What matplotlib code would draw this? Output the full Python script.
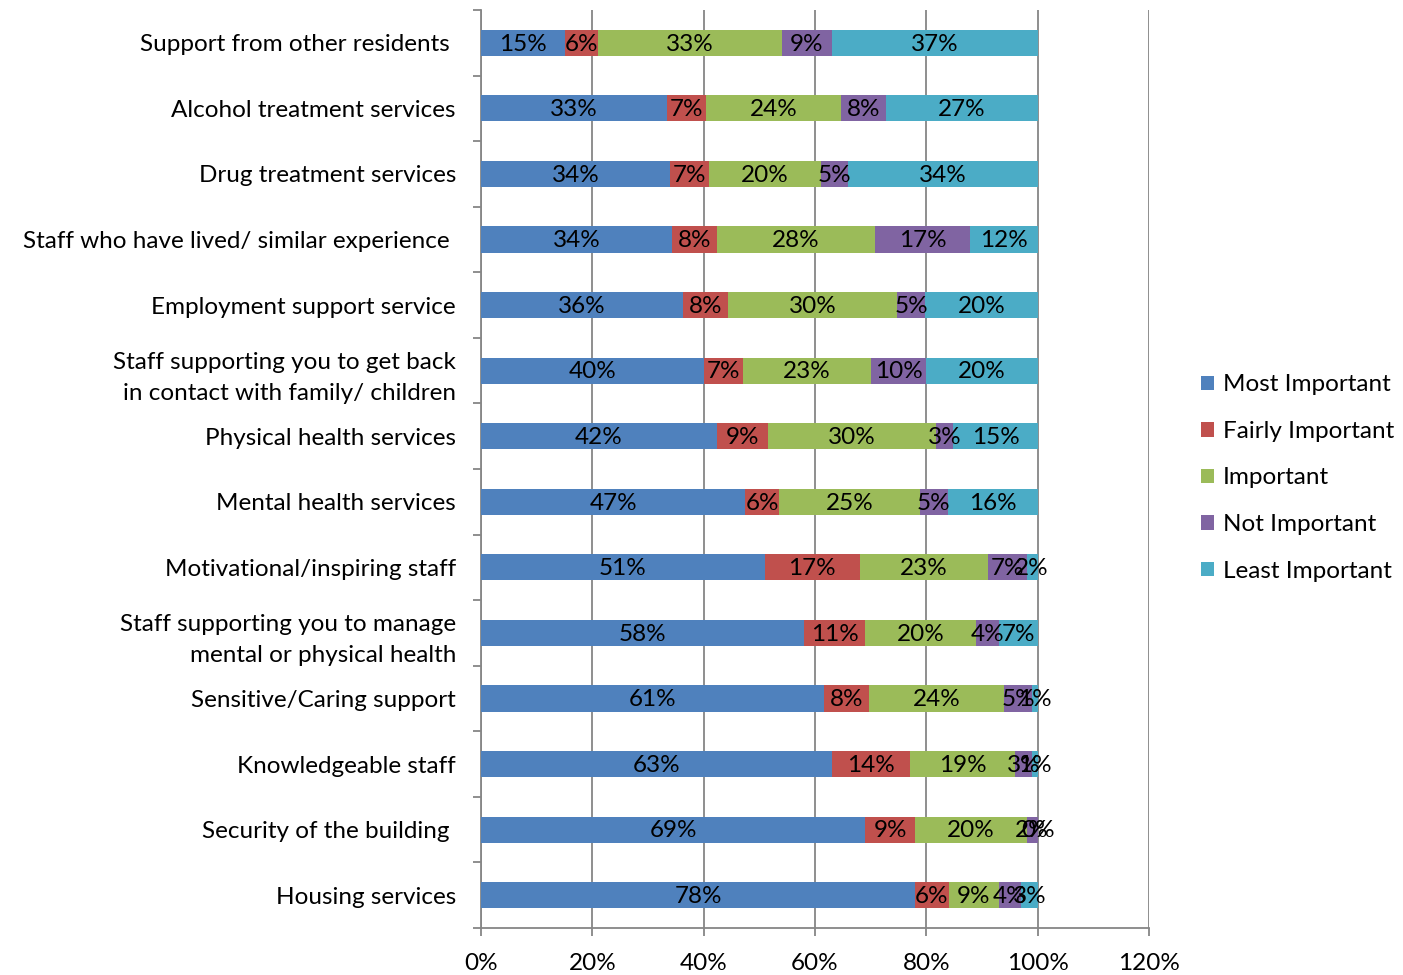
import numpy as np
from matplotlib import pyplot as plt
from matplotlib.ticker import FixedLocator, NullFormatter

plt.rcParams['font.family'] = ['Lato', 'DejaVu Sans']

# categories, top to bottom
categories = [
    'Support from other residents ',
    'Alcohol treatment services',
    'Drug treatment services',
    'Staff who have lived/ similar experience ',
    'Employment support service',
    'Staff supporting you to get back\nin contact with family/ children',
    'Physical health services',
    'Mental health services',
    'Motivational/inspiring staff',
    'Staff supporting you to manage\nmental or physical health',
    'Sensitive/Caring support',
    'Knowledgeable staff',
    'Security of the building ',
    'Housing services',
]
series = ['Most Important', 'Fairly Important', 'Important', 'Not Important', 'Least Important']
colors = ['#4F81BD', '#C0504D', '#9BBB59', '#8064A2', '#4BACC6']

most = [15, 33, 34, 34, 36, 40, 42, 47, 51, 58, 61, 63, 69, 78]
fairly = [6, 7, 7, 8, 8, 7, 9, 6, 17, 11, 8, 14, 9, 6]
important = [33, 24, 20, 28, 30, 23, 30, 25, 23, 20, 24, 19, 20, 9]
not_imp = [9, 8, 5, 17, 5, 10, 3, 5, 7, 4, 5, 3, 2, 4]
least = [37, 27, 34, 12, 20, 20, 15, 16, 2, 7, 1, 1, 0, 3]

vals = np.array([most, fairly, important, not_imp, least], dtype=float)
shares = vals / vals.sum(axis=0) * 100  # 100% stacked

fig = plt.figure(figsize=(14.03, 9.75), dpi=100)
ax = fig.add_axes([481/1403, 47/975, 668/1403, 918/975])

n = len(categories)
y = np.arange(n)[::-1]
fs = 17.5
left = np.zeros(n)
for i in range(5):
    ax.barh(y, shares[i], left=left, height=0.4, color=colors[i], label=series[i], zorder=3)
    for yy, l, w, v in zip(y, left, shares[i], vals[i]):
        ax.text(l + w / 2, yy - 0.02, '%d%%' % v, ha='center', va='center', fontsize=fs, zorder=4)
    left += shares[i]

ax.set_xlim(0, 120)
ax.set_ylim(-0.5, n - 0.5)
ax.set_xticks(np.arange(0, 121, 20))
ax.set_xticklabels(['%d%%' % t for t in range(0, 121, 20)], fontsize=fs)
ax.xaxis.grid(True, color='#868686', linewidth=1.3, zorder=0)
ax.tick_params(axis='x', length=6, color='#868686', width=1.3, pad=12)

ax.yaxis.set_major_locator(FixedLocator(np.arange(-0.5, n, 1)))
ax.yaxis.set_major_formatter(NullFormatter())
ax.yaxis.set_minor_locator(FixedLocator(y))
ax.set_yticklabels(categories, minor=True, fontsize=fs, linespacing=1.6)
ax.tick_params(axis='y', which='major', length=6, color='#868686', width=1.3)
ax.tick_params(axis='y', which='minor', length=0, pad=18)

for s in ['top', 'right']:
    ax.spines[s].set_visible(False)
for s in ['left', 'bottom']:
    ax.spines[s].set_color('#868686')
    ax.spines[s].set_linewidth(1.3)

fig.legend(loc='center left', bbox_to_anchor=(1201/1403, 1 - 478/975), frameon=False,
           fontsize=fs, handlelength=0.55, handleheight=0.55, handletextpad=0.35,
           labelspacing=1.05, borderaxespad=0, borderpad=0)

fig.savefig('out.png', dpi=100)
